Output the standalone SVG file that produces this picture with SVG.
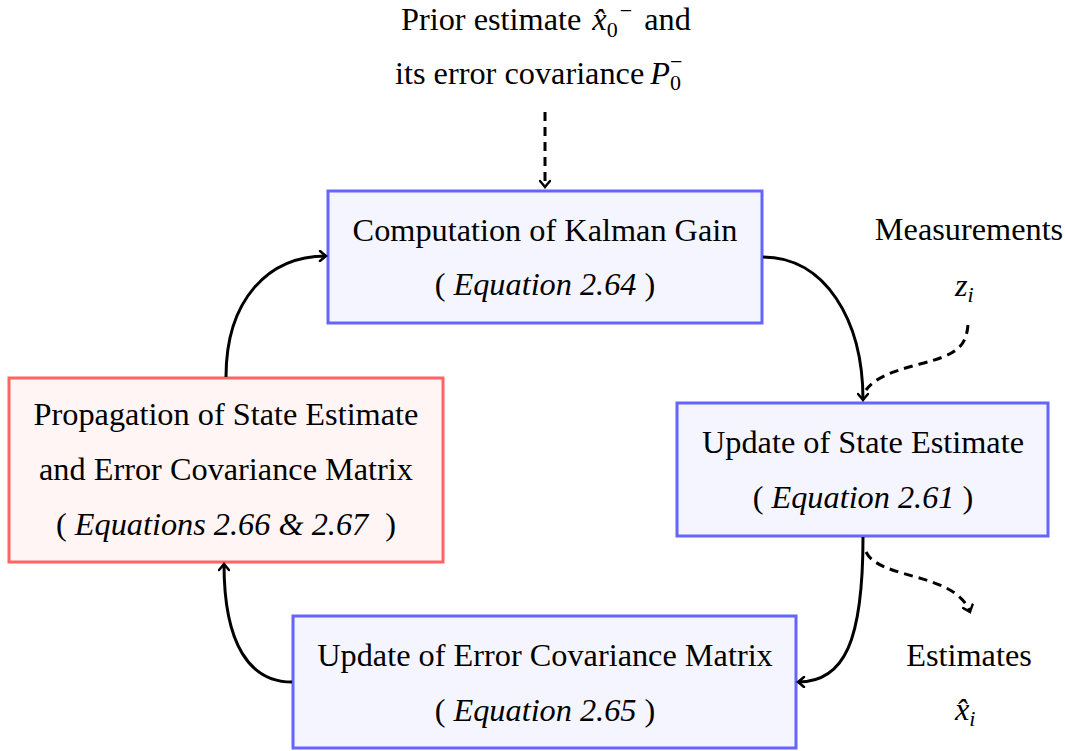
<svg xmlns="http://www.w3.org/2000/svg" width="1065" height="751" viewBox="0 0 1065 751">
  <style>
    text { font-family: "Liberation Serif", "Times New Roman", serif; font-size: 32.3px; fill: #000; }
    .mid { text-anchor: middle; }
    .it { font-style: italic; }
    .sub { font-size: 22px; }
    .boxB { fill: #f5f5ff; stroke: #6464ff; stroke-width: 3; }
    .boxR { fill: #fff5f5; stroke: #ff6464; stroke-width: 3; }
    .edge { fill: none; stroke: #000; stroke-width: 3; }
    .dash { fill: none; stroke: #000; stroke-width: 3; stroke-dasharray: 9 6; }
  </style>
  <defs>
    <marker id="arrow" viewBox="-8 -6 10 12" markerWidth="10" markerHeight="12" refX="0" refY="0" orient="auto" markerUnits="userSpaceOnUse">
      <path d="M -6,-5 Q -2,-1.5 0,0 Q -2,1.5 -6,5" fill="none" stroke="#000" stroke-width="2.5" stroke-linecap="round"/>
    </marker>
  </defs>

  <!-- inputs and outputs -->
  <g id="prior">
    <text x="401" y="30">Prior estimate <tspan class="it" dx="3">x̂</tspan><tspan class="sub" dy="7">0</tspan><tspan class="sub" dx="2" dy="-19">−</tspan><tspan dx="4" dy="12"> and</tspan></text>
    <text x="395" y="84">its error covariance <tspan class="it" dx="-2">P</tspan><tspan class="sub" dy="6">0</tspan><tspan class="sub" dx="-11" dy="-21">−</tspan></text>
  </g>

  <g id="measurements">
    <text class="mid" x="969" y="240">Measurements</text>
    <text x="955" y="296"><tspan class="it">z</tspan><tspan class="sub it" dy="6">i</tspan></text>
  </g>

  <g id="estimates">
    <text class="mid" x="969" y="666">Estimates</text>
    <text x="955" y="720"><tspan class="it">x̂</tspan><tspan class="sub it" dy="6">i</tspan></text>
  </g>

  <!-- process nodes -->
  <g id="kalman-gain">
    <rect class="boxB" x="328" y="191" width="434" height="132"/>
    <text class="mid" x="545" y="241">Computation of Kalman Gain</text>
    <text class="mid" x="545" y="295">( <tspan class="it">Equation 2.64</tspan> )</text>
  </g>

  <g id="state-update">
    <rect class="boxB" x="677" y="403" width="371" height="133"/>
    <text class="mid" x="863" y="453">Update of State Estimate</text>
    <text class="mid" x="863" y="508">( <tspan class="it">Equation 2.61</tspan> )</text>
  </g>

  <g id="covariance-update">
    <rect class="boxB" x="293" y="616" width="503" height="132"/>
    <text class="mid" x="545" y="666">Update of Error Covariance Matrix</text>
    <text class="mid" x="545" y="721">( <tspan class="it">Equation 2.65</tspan> )</text>
  </g>

  <g id="propagation">
    <rect class="boxR" x="9" y="378" width="434" height="184"/>
    <text class="mid" x="226" y="425">Propagation of State Estimate</text>
    <text class="mid" x="226" y="480">and Error Covariance Matrix</text>
    <text class="mid" x="226" y="535">( <tspan class="it">Equations 2.66 &amp; 2.67</tspan><tspan dx="9"> )</tspan></text>
  </g>

  <!-- connectors -->
  <g id="connectors">
    <path class="dash" d="M545,112 L545,187" marker-end="url(#arrow)"/>
    <path class="edge" d="M763,257 C825,257 863,320 863,400" marker-end="url(#arrow)"/>
    <path class="dash" d="M968,325 C966,348 955,355 920,364 C890,372 875,378 866,390"/>
    <path class="edge" d="M863,537 C863,640 845,682 798,682" marker-end="url(#arrow)"/>
    <path class="dash" d="M866,552 C880,580 955,572 970,612" marker-end="url(#arrow)"/>
    <path class="edge" d="M292,682 C250,682 224,645 224,564" marker-end="url(#arrow)"/>
    <path class="edge" d="M226,377 C226,300 268,256 326,256" marker-end="url(#arrow)"/>
  </g>
</svg>
